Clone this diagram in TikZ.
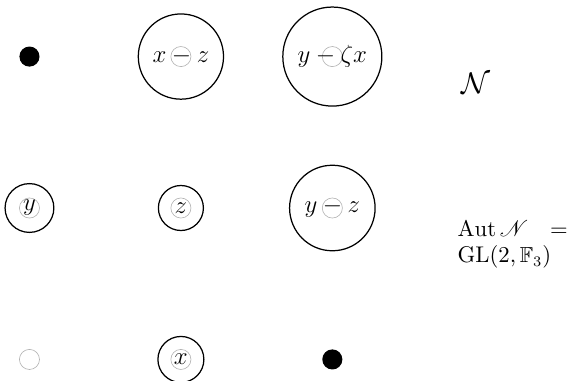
\documentclass[tikz,border=0pt]{standalone}
\usepackage{amsmath}
\usepackage{amssymb}
\usepackage{mathrsfs}
\usepackage{tikz}

\begin{document}
\begin{tikzpicture}[scale=1,
  pt/.style={circle,draw=black!30,line width=0.3pt,minimum size=9.7pt,inner sep=0pt},
  dot/.style={circle,fill=black,minimum size=9.7pt,inner sep=0pt},
  ring/.style={circle,draw,line width=0.6pt,inner sep=4.9pt,font=\fontsize{12.5}{15}\selectfont}]
  \useasboundingbox (-0.5,-0.365) rectangle (9.19,6.10);
  % points of the plane
  \node[dot] (p11) at (0,5.14) {};
  \node[pt] (p12) at (2.57,5.14) {};
  \node[pt] (p13) at (5.14,5.14) {};
  \node[pt] (p21) at (0,2.57) {};
  \node[pt] (p22) at (2.57,2.57) {};
  \node[pt] (p23) at (5.14,2.57) {};
  \node[pt] (p31) at (0,0) {};
  \node[pt] (p32) at (2.57,0) {};
  \node[dot] (p33) at (5.14,0) {};
  % linear forms
  \node[ring] (xz) at (p12) {$x - z$};
  \node[ring] (yzx) at (p13) {$y - \zeta x$};
  \node[ring] (y) at (p21) {$y$};
  \node[ring] (z) at (p22) {$z$};
  \node[ring] (yz) at (p23) {$y - z$};
  \node[ring] (x) at (p32) {$x$};
  % labels
  \node[font=\fontsize{14.4}{17}\selectfont] (nn) at (7.58,4.68) {$\mathcal{N}$};
  \node[anchor=west,text width=1.87cm,align=justify,inner sep=0pt,
    font=\fontsize{10.5}{12.6}\selectfont] (aut) at (7.26,1.95)
    {$\operatorname{Aut}\mathscr{N} = \mathrm{GL}(2,\mathbb{F}_3)$};
\end{tikzpicture}
\end{document}
